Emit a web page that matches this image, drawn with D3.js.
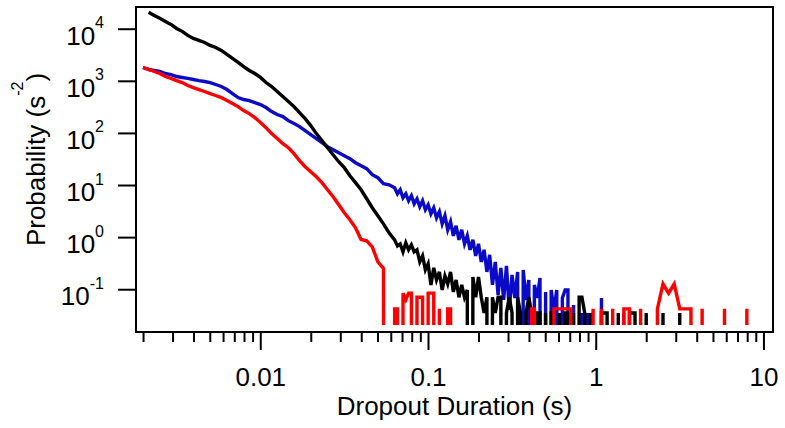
<!DOCTYPE html>
<html>
<head>
<meta charset="utf-8">
<script src="https://cdn.jsdelivr.net/npm/d3@7"></script>
<style>
  body { margin: 0; background: #fff; }
  text { font-family: "Liberation Sans", Arial, sans-serif; fill: #000; }
</style>
</head>
<body>
<div id="chart"></div>
<script>
// histogram bin centres (s), shared by the three traces
// (the noisy 0.06 - 1 s stretch is read at half-bin steps)
const durations = [
  0.002, 0.00216, 0.002332, 0.002518, 0.002719, 0.002936, 0.00317, 0.003423, 0.003696, 0.003991,
  0.004309, 0.004653, 0.005024, 0.005425, 0.005857, 0.006325, 0.006829, 0.007374, 0.007962, 0.008597,
  0.009283, 0.01002, 0.01082, 0.01169, 0.01262, 0.01363, 0.01471, 0.01589, 0.01715, 0.01852,
  0.02, 0.0216, 0.02332, 0.02518, 0.02719, 0.02936, 0.0317, 0.03423, 0.03696, 0.03991,
  0.04309, 0.04653, 0.05024, 0.05425, 0.05857,
  0.06325, 0.06572, 0.06829, 0.07096, 0.07374, 0.07662, 0.07962, 0.08273, 0.08597, 0.08933,
  0.09283, 0.09646, 0.1002, 0.1041, 0.1082, 0.1124, 0.1169, 0.1215, 0.1262, 0.1311,
  0.1363, 0.1416, 0.1471, 0.1529, 0.1589, 0.1651, 0.1715, 0.1782, 0.1852, 0.1924,
  0.2, 0.2078, 0.216, 0.2245, 0.2332, 0.2423, 0.2518, 0.2617, 0.2719, 0.2825,
  0.2936, 0.3051, 0.317, 0.3294, 0.3423, 0.3557, 0.3696, 0.3841, 0.3991, 0.4147,
  0.4309, 0.4478, 0.4653, 0.4835, 0.5024, 0.522, 0.5425, 0.5637, 0.5857, 0.6086,
  0.6325, 0.6572, 0.6829, 0.7096, 0.7374, 0.7662, 0.7962, 0.8273, 0.8597, 0.8933,
  0.9283, 0.9646,
  1.002, 1.082, 1.169, 1.262, 1.363, 1.471, 1.589, 1.715, 1.852, 2,
  2.16, 2.332, 2.518, 2.719, 2.936, 3.17, 3.423, 3.696, 3.991, 4.309,
  4.653, 5.024, 5.425, 5.857, 6.325, 6.829, 7.374, 7.962
];

// probability (s^-2); 0 = empty bin, null = no point
const blackProb = [
  null, 20600, 18000, 15800, 13800, 12100, 10100, 8900, 7430, 6510,
  5960, 5450, 4780, 4370, 3830, 3210, 2690, 2250, 1880, 1580,
  1380, 1160, 927, 777, 623, 499, 400, 320, 246, 188,
  138, 97, 71, 52, 38, 28, 21.5, 15.1, 11.1, 8.1,
  5.45, 3.66, 2.57, 1.8, 1.21,
  0.887, 0.68, 0.743, 0.522, 0.777, 0.57, 0.711, 0.522, 0.57, 0.335,
  0.437, 0.235, 0.307, 0.121, 0.257, 0.151, 0.215, 0.097, 0.18, 0.126,
  0.215, 0.0887, 0.151, 0.07, 0.121, 0.07, 0.097, 0, 0.172, 0.07,
  0.172, 0.07, 0.035, 0.07, 0, 0.07, 0.035, 0.07, 0.07, 0,
  0.035, 0.07, 0.035, 0, 0.07, 0.035, 0, 0.035, 0.07, 0.035,
  0, 0.035, 0.035, 0, 0.035, 0, 0.035, 0.035, 0, 0.035,
  0, 0.035, 0.035, 0, 0.035, 0, 0.07, 0.07, 0.035, 0,
  0.035, 0,
  0, 0.035, 0.035, 0, 0.035, 0, 0.035, 0.035, 0, 0.035,
  0, 0, 0.035, 0, 0, 0.035, null, null, null, null,
  null, null, null, null, null, null, null, null
];

const blueProb = [
  1800, 1650, 1580, 1510, 1380, 1320, 1210, 1160, 1110, 1060,
  1010, 969, 927, 849, 777, 680, 570, 477, 437, 418,
  382, 350, 307, 257, 225, 206, 172, 151, 132, 111,
  92.7, 78, 65, 54.5, 47.7, 41.8, 36.6, 32, 26.8, 23.5,
  20.6, 15.8, 13.8, 10.6, 10.1,
  8.87, 6.8, 8.12, 5.7, 6.8, 4.99, 6.23, 4.37, 5.45, 3.83,
  4.99, 3.35, 4.18, 2.81, 3.66, 2.35, 3.07, 1.8, 2.57, 1.38,
  1.97, 1.06, 1.65, 0.887, 1.38, 0.743, 1.06, 0.57, 0.887, 0.437,
  0.743, 0.335, 0.57, 0.215, 0.457, 0.121, 0.335, 0.0777, 0.257, 0.0622,
  0.281, 0.04, 0.188, 0.068, 0.215, 0, 0.235, 0.0622, 0.151, 0,
  0.121, 0.068, 0.165, 0, 0.0887, 0, 0.097, 0.04, 0.097, 0,
  0.068, 0.097, 0.097, 0, 0.05, 0, 0, 0.035, 0, 0.035,
  0, 0,
  0, 0.068, 0, 0, 0, 0.035, null, null, null, null,
  null, null, null, null, null, null, null, null, null, null,
  null, null, null, null, null, null, null, null
];

const redProb = [
  1800, 1650, 1510, 1380, 1210, 1110, 1010, 927, 812, 743,
  680, 623, 570, 522, 477, 418, 366, 320, 268, 235,
  197, 158, 126, 97, 78, 62, 52, 40, 29.3, 22.5,
  18, 14.4, 11.1, 8.1, 5.96, 4.18, 2.93, 2.15, 1.51, 0.9,
  0.85, 0.651, 0.335, 0.25, 0,
  0.042, 0.042, 0, 0.084, 0.063, 0.084, 0.084, 0, 0.07, 0.07,
  0.07, 0, 0.084, 0.084, 0.084, 0, 0.042, 0, 0, 0.042,
  0.042, 0, 0, 0, 0, 0, 0, 0, 0, 0,
  0, 0, 0, 0, 0, 0, 0, 0, 0, 0,
  0, 0, 0, 0, 0, 0, 0, 0, 0, 0.042,
  0.042, 0, 0, 0, 0, 0, 0, 0.042, 0.042, 0.042,
  0.042, 0.042, 0.042, 0.042, 0, 0, 0, 0, 0, 0,
  0, 0.042,
  0, 0.042, 0, 0.042, 0, 0.042, 0.042, 0, 0.042, 0,
  0, 0.042, 0.126, 0.084, 0.126, 0.042, 0.042, 0.042, 0, 0.042,
  0, 0, 0, 0.042, 0, 0, 0, 0.042
];

const yTickValues = [0.1, 1, 10, 100, 1000, 10000];
const yTickExponents = ["-1", "0", "1", "2", "3", "4"];
const xMajorTicks = [0.01, 0.1, 1, 10];
const xMajorLabels = ["0.01", "0.1", "1", "10"];
const xMinorTicks = [
  0.002, 0.003, 0.004, 0.005, 0.006, 0.007, 0.008, 0.009,
  0.02, 0.03, 0.04, 0.05, 0.06, 0.07, 0.08, 0.09,
  0.2, 0.3, 0.4, 0.5, 0.6, 0.7, 0.8, 0.9,
  2, 3, 4, 5, 6, 7, 8, 9
];

function drawChart() {
  let width = 785, height = 428;
  let margin = {top: 7, right: 12, bottom: 96, left: 136};
  let w = width - margin.left - margin.right,
      h = height - margin.top - margin.bottom;

  let svg = d3.select("#chart")
    .append("svg")
    .attr("width", width)
    .attr("height", height)
    .append("g")
    .attr("transform", "translate(" + margin.left + "," + margin.top + ")");

  let x = d3.scaleLog().domain([0.001816, 11.4]).range([0, w]);
  let y = d3.scaleLog().domain([0.0151, 26100]).range([h, 0]);

  // plot area clip, empty bins fall below it
  svg.append("defs").append("clipPath")
    .attr("id", "plotClip")
    .append("rect")
    .attr("x", 1).attr("y", 0)
    .attr("width", w - 2).attr("height", h - 7);

  let series = [
    {name: "blue", values: blueProb, color: "#0a0ac8"},
    {name: "black", values: blackProb, color: "#000000"},
    {name: "red", values: redProb, color: "#ff0000"}
  ];

  let line = d3.line()
    .defined(d => d[1] !== null)
    .x(d => x(d[0]))
    .y(d => d[1] > 0 ? y(d[1]) : h + 3000);

  svg.append("g")
    .attr("clip-path", "url(#plotClip)")
    .selectAll("path")
    .data(series)
    .enter()
    .append("path")
    .attr("d", s => line(durations.map((t, i) => [t, s.values[i]])))
    .attr("fill", "none")
    .attr("stroke", s => s.color)
    .attr("stroke-width", 3.4);

  // x axis: minor then major ticks
  let xMinor = svg.append("g")
    .attr("transform", "translate(0," + h + ")")
    .call(d3.axisBottom(x).tickValues(xMinorTicks).tickSize(10).tickFormat(""));
  xMinor.select(".domain").remove();
  xMinor.selectAll(".tick line").attr("stroke-width", 2);

  let xMajor = svg.append("g")
    .attr("transform", "translate(0," + h + ")")
    .call(d3.axisBottom(x).tickValues(xMajorTicks).tickSize(18)
      .tickFormat(d => xMajorLabels[xMajorTicks.indexOf(d)]));
  xMajor.select(".domain").remove();
  xMajor.selectAll(".tick line").attr("stroke-width", 2);
  xMajor.selectAll(".tick text")
    .attr("y", 54)
    .attr("dy", null)
    .attr("font-size", 26);

  // y axis with 10^n labels
  let yAxis = svg.append("g")
    .call(d3.axisLeft(y).tickValues(yTickValues).tickSize(18).tickFormat(""));
  yAxis.select(".domain").remove();
  yAxis.selectAll(".tick line").attr("stroke-width", 2);
  yAxis.selectAll(".tick text")
    .attr("x", -32)
    .attr("y", 15.7)
    .attr("dy", null)
    .attr("text-anchor", "end")
    .attr("font-size", 26)
    .each(function(d) {
      let t = d3.select(this);
      t.append("tspan").text("10");
      t.append("tspan")
        .attr("font-size", 16)
        .attr("dy", -16.7)
        .text(yTickExponents[yTickValues.indexOf(d)]);
    });

  // frame
  svg.append("rect")
    .attr("width", w)
    .attr("height", h)
    .attr("fill", "none")
    .attr("stroke", "#000")
    .attr("stroke-width", 2);

  // titles
  svg.append("text")
    .attr("x", w / 2)
    .attr("y", h + 83)
    .attr("text-anchor", "middle")
    .attr("font-size", 26)
    .text("Dropout Duration (s)");

  let yTitle = svg.append("text")
    .attr("transform", "translate(-91,152.5) rotate(-90)")
    .attr("text-anchor", "middle")
    .attr("font-size", 26);
  yTitle.append("tspan").text("Probability (s");
  yTitle.append("tspan").attr("font-size", 16).attr("dy", -22).text("-2");
  yTitle.append("tspan").attr("dy", 22).text(")");
}

drawChart();
</script>
</body>
</html>
